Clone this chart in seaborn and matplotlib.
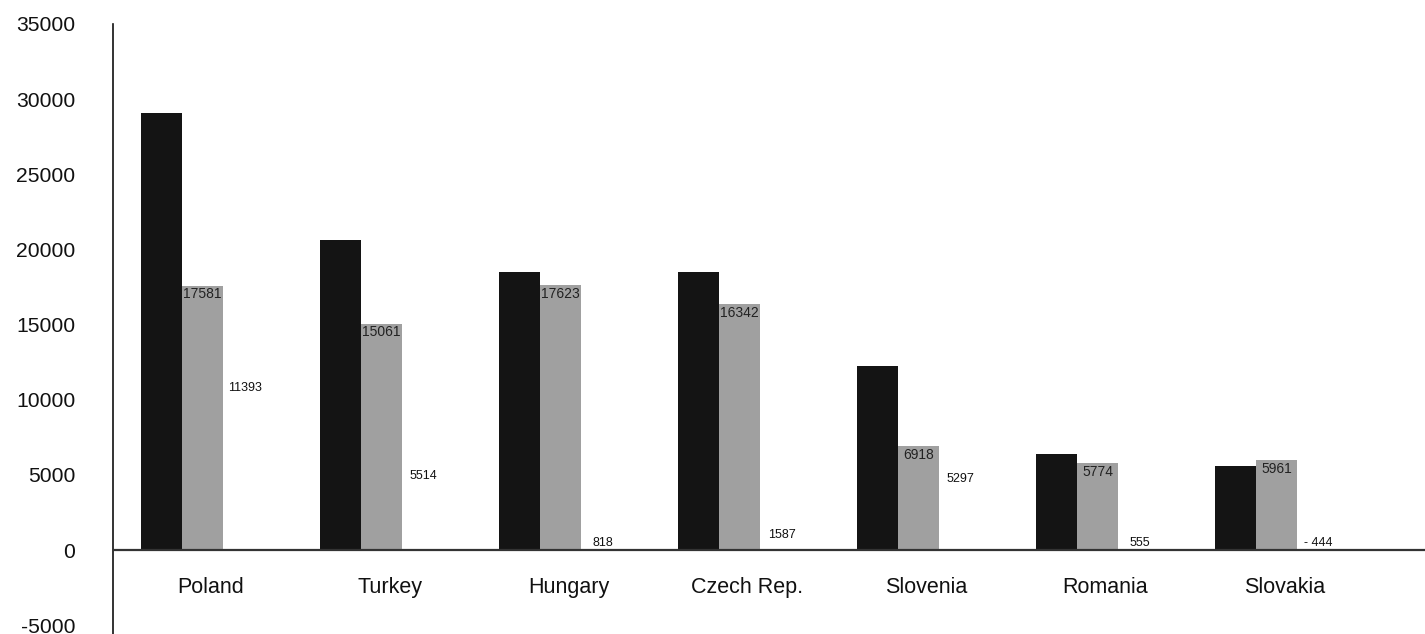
import matplotlib
matplotlib.use("Agg")
import matplotlib.pyplot as plt
import seaborn as sns
import pandas as pd
import numpy as np

countries = ["Poland", "Turkey", "Hungary", "Czech Rep.", "Slovenia", "Romania", "Slovakia"]
series_names = ["A", "B", "C"]
dark_values = [29060, 20600, 18480, 18480, 12240, 6380, 5580]
gray_values = [17581, 15061, 17623, 16342, 6918, 5774, 5961]
third_values = [11393, 5514, 818, 1587, 5297, 555, -444]
yticks = list(range(-5000, 35001, 5000))

sns.set_theme(style="white")
plt.rcParams['font.family'] = ['Liberation Sans', 'DejaVu Sans']

rows = []
for i, c in enumerate(countries):
    rows.append((c, series_names[0], dark_values[i]))
    rows.append((c, series_names[1], gray_values[i]))
    rows.append((c, series_names[2], third_values[i]))
df = pd.DataFrame(rows, columns=["country", "series", "value"])

fig = plt.figure(figsize=(14.25, 6.34), dpi=100)
ax = fig.add_axes([113/1425, 0.0, 1 - 113/1425, (634 - 24) / 634])

sns.barplot(data=df, x="country", y="value", hue="series", order=countries,
            hue_order=series_names, palette=["#141414", "#a0a0a0", "#ffffff"],
            width=0.69, gap=0, saturation=1, legend=False, ax=ax, errorbar=None,
            linewidth=0)

ax.set_ylim(-5585, 35000)
ax.set_xlim(-0.5, 6.83)
ax.set_yticks(yticks)
ax.set_yticklabels([str(t) for t in yticks], fontsize=15.2, color="#111")
ax.tick_params(axis="y", length=0, pad=27)
ax.set_xticks([])
ax.set_xlabel("")
ax.set_ylabel("")
for s in ["top", "right", "bottom"]:
    ax.spines[s].set_visible(False)
ax.spines["left"].set_color("#111")
ax.spines["left"].set_linewidth(1.2)
ax.axhline(0, color="#333", lw=1.6, zorder=5)

bw = 0.69 / 3
for i, c in enumerate(countries):
    ax.text(i + 0.045, -2523, c, ha="center", va="center", fontsize=15.5, color="#111")
    ax.text(i, gray_values[i] - 100, str(gray_values[i]), ha="center", va="top",
            fontsize=10, color="#222")
    v = third_values[i]
    lab = str(v) if v >= 0 else "- " + str(-v)
    ax.text(i + bw + 0.005, max(v, 1100) - 200, lab, ha="center", va="top",
            fontsize=9, color="#111")

fig.savefig("out.png", dpi=100, facecolor="white")
